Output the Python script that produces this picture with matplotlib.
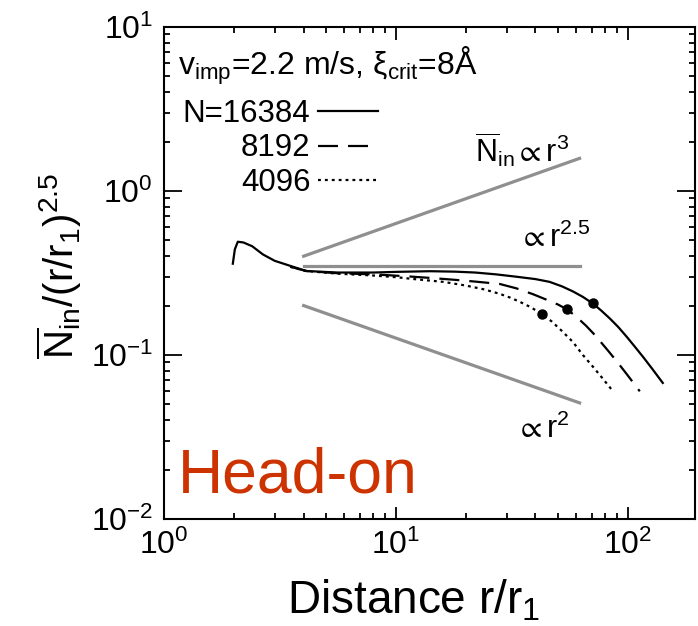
import numpy as np
import matplotlib
matplotlib.use('Agg')
import matplotlib.pyplot as plt
from matplotlib.ticker import FuncFormatter, LogLocator, NullFormatter

plt.rcParams['font.family'] = ['Liberation Sans', 'DejaVu Sans']
plt.rcParams['mathtext.fontset'] = 'custom'
plt.rcParams['mathtext.rm'] = 'Liberation Sans'
plt.rcParams['mathtext.it'] = 'Liberation Sans:italic'
plt.rcParams['mathtext.default'] = 'regular'

# scaled number of particles inside radius r, three system sizes
r_16384 = [1.98, 2.02, 2.08, 2.2, 2.4, 2.67, 3.0, 3.4, 4.1, 5.6, 8, 10, 14, 18, 22,
           27, 33, 40, 46, 52, 58, 64, 70.7, 77, 84, 91, 99, 108, 117, 128, 141.6]
n_16384 = [0.36, 0.44, 0.49, 0.485, 0.46, 0.41, 0.375, 0.354, 0.325, 0.318, 0.318,
           0.321, 0.324, 0.322, 0.318, 0.31, 0.3, 0.29, 0.279, 0.262, 0.244, 0.226,
           0.206, 0.186, 0.166, 0.148, 0.129, 0.111, 0.0964, 0.0817, 0.0675]

r_8192 = [3.5, 4.1, 5.6, 8, 11, 14, 18, 22, 28, 33, 38.9, 44, 50, 54.6, 60, 66, 71,
          75.7, 82, 90, 100, 112.7]
n_8192 = [0.345, 0.325, 0.315, 0.31, 0.302, 0.295, 0.287, 0.28, 0.271, 0.255, 0.235,
          0.219, 0.203, 0.19, 0.171, 0.151, 0.1355, 0.122, 0.1067, 0.0908, 0.075,
          0.06]

r_4096 = [3.5, 4.1, 5.6, 8, 10, 12, 16, 20, 24, 28, 31, 34.2, 38, 42.6, 47, 52, 58,
          64, 71, 78, 86]
n_4096 = [0.345, 0.325, 0.313, 0.305, 0.298, 0.29, 0.279, 0.265, 0.251, 0.236, 0.224,
          0.211, 0.196, 0.178, 0.16, 0.14, 0.12, 0.1, 0.0843, 0.0718, 0.0605]

# crossover points (one per system size)
r_cross = [70.7, 54.6, 42.6]
n_cross = [0.206, 0.19, 0.178]

# power-law guide lines
r_guide = [4, 62]
guide_r3 = [0.4, 1.58]
guide_r25 = [0.35, 0.35]
guide_r2 = [0.2, 0.051]

fig = plt.figure(figsize=(6.98, 6.26), dpi=100)
ax = fig.add_axes([0.235, 0.171, 0.7607, 0.786])

grey = '#8f8f8f'
ax.plot(r_guide, guide_r3, color=grey, lw=2.3)
ax.plot(r_guide, guide_r25, color=grey, lw=2.3)
ax.plot(r_guide, guide_r2, color=grey, lw=2.3)

ax.plot(r_16384, n_16384, color='black', lw=1.6, label='N=16384')
ax.plot(r_8192, n_8192, color='black', lw=1.6, dashes=(9, 4.5), label='8192')
ax.plot(r_4096, n_4096, color='black', lw=1.6, dashes=(1.3, 1.8), label='4096')
ax.plot(r_cross, n_cross, 'o', color='black', ms=6.5)

ax.set_xscale('log')
ax.set_yscale('log')
ax.set_xlim(1, 195)
ax.set_ylim(1e-2, 1e1)

fmt = FuncFormatter(lambda v, p: r'$10^{%d}$' % round(np.log10(v)))
ax.xaxis.set_major_formatter(fmt)
ax.yaxis.set_major_formatter(fmt)
ax.xaxis.set_minor_locator(LogLocator(base=10, subs=np.arange(2, 10)))
ax.yaxis.set_minor_locator(LogLocator(base=10, subs=np.arange(2, 10)))
ax.xaxis.set_minor_formatter(NullFormatter())
ax.yaxis.set_minor_formatter(NullFormatter())

ax.tick_params(which='both', direction='in', top=True, right=True, width=1.3,
               labelsize=23, pad=8)
ax.tick_params(axis='x', which='major', length=9)
ax.tick_params(axis='x', which='minor', length=4.5)
ax.tick_params(axis='y', which='major', length=13)
ax.tick_params(axis='y', which='minor', length=4)
for s in ax.spines.values():
    s.set_linewidth(1.5)

ax.set_xlabel('Distance r/r$_1$', fontsize=33)
ax.xaxis.set_label_coords(0.47, -0.12)
ax.xaxis.label.set_va('top')
ax.set_ylabel(r'$\overline{N}_{in}$/(r/r$_1$)$^{2.5}$', fontsize=29)
ax.yaxis.set_label_coords(-0.15, 0.514)

ax.text(0.026, 0.902, r'$v_{imp}$=2.2 m/s, $\xi_{crit}$=8Å', transform=ax.transAxes,
        fontsize=23, va='baseline', ha='left')
ax.legend(loc='upper left', bbox_to_anchor=(0.0, 0.892), frameon=False,
          markerfirst=False, fontsize=22.5, handlelength=1.9, handletextpad=0.25,
          labelspacing=0.15, borderpad=0.1)

ax.text(56, 1.5, r'$\overline{N}_{in}\propto r^3$', fontsize=22, ha='right', va='baseline')
ax.text(68.6, 0.456, r'$\propto r^{2.5}$', fontsize=22, ha='right', va='baseline')
ax.text(56, 0.0312, r'$\propto r^2$', fontsize=22, ha='right', va='baseline')

ax.text(0.026, 0.053, 'Head-on', transform=ax.transAxes, fontsize=45,
        color='#cc3300', va='baseline', ha='left')

fig.savefig('out.png', dpi=100)
